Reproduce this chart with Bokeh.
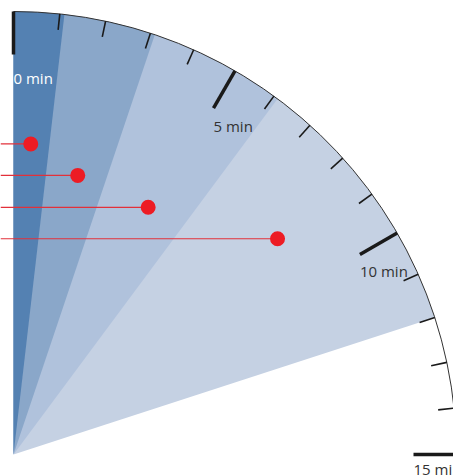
import numpy as np
from bokeh.plotting import figure
from bokeh.models import Range1d, ColumnDataSource
from bokeh.embed import file_html
from bokeh.resources import INLINE
from bokeh.core.properties import value

# ---- data (minutes on a clock face, radius normalised to 1) ----
stage_end_min = [12.0, 6.1, 3.1, 1.1]          # wedges, drawn back to front
stage_colors = ["#c5d1e3", "#b0c2dc", "#8aa7c9", "#5481b2"]
tick_minutes = list(range(0, 16))
major_every = 5
label_minutes = [0, 5, 10, 15]
label_texts = ["0 min", "5 min", "10 min", "15 min"]
label_colors = ["#ffffff", "#333333", "#333333", "#333333"]
dot_x = [0.039, 0.145, 0.304, 0.596]
dot_y = [0.701, 0.630, 0.558, 0.487]

# ---- layout (pixels) ----
W, H = 453, 475
CX, CY, RPX = 13, 454, 443
MAJOR_LEN, MINOR_LEN = 43 / RPX, 16 / RPX
label_dy = [13, 8, 6, 4]

x_range = Range1d(-CX / RPX, (W - CX) / RPX)
y_range = Range1d(-(H - CY) / RPX, CY / RPX)

p = figure(width=W, height=H, x_range=x_range, y_range=y_range,
           output_backend="svg", toolbar_location=None,
           x_axis_type=None, y_axis_type=None, min_border=0,
           outline_line_color=None, background_fill_color="white")

def deg(m):
    return 90 - 6 * m

# wedges
for t, c in zip(stage_end_min, stage_colors):
    p.wedge(x=0, y=0, radius=1, start_angle=deg(t), end_angle=90,
            start_angle_units="deg", end_angle_units="deg",
            fill_color=c, line_color=None)

# outer arc
p.arc(x=0, y=0, radius=1, start_angle=-10, end_angle=90,
      start_angle_units="deg", end_angle_units="deg",
      line_color="#333333", line_width=1)

# ticks
tm = np.array(tick_minutes, dtype=float)
th = np.radians(tm * 6)
is_major = (np.array(tick_minutes) % major_every) == 0
r_in = np.where(is_major, 1 - MAJOR_LEN, 1 - MINOR_LEN)
tick_src = ColumnDataSource(dict(
    x0=np.sin(th), y0=np.cos(th), x1=r_in * np.sin(th), y1=r_in * np.cos(th),
    w=np.where(is_major, 3.5, 1.6)))
p.segment(x0="x0", y0="y0", x1="x1", y1="y1", line_width="w",
          line_color="#1a1a1a", source=tick_src)

# labels
lm = np.radians(np.array(label_minutes, dtype=float) * 6)
lr = 1 - MAJOR_LEN
lab_src = ColumnDataSource(dict(x=lr * np.sin(lm), y=lr * np.cos(lm),
                                text=label_texts, color=label_colors,
                                dy=label_dy))
p.text(x="x", y="y", text="text", text_color="color", y_offset="dy",
       text_align="left", text_baseline="top", text_font_size="15px",
       text_font=value("Open Sans"), source=lab_src)

# red markers with leader lines to the left edge
p.segment(x0=[x_range.start] * len(dot_x), y0=dot_y, x1=dot_x, y1=dot_y,
          line_color="#e2303a", line_width=1.2)
p.scatter(x=dot_x, y=dot_y, size=15, fill_color="#ed1c24", line_color=None)

open("out.html", "w").write(file_html(p, INLINE))
